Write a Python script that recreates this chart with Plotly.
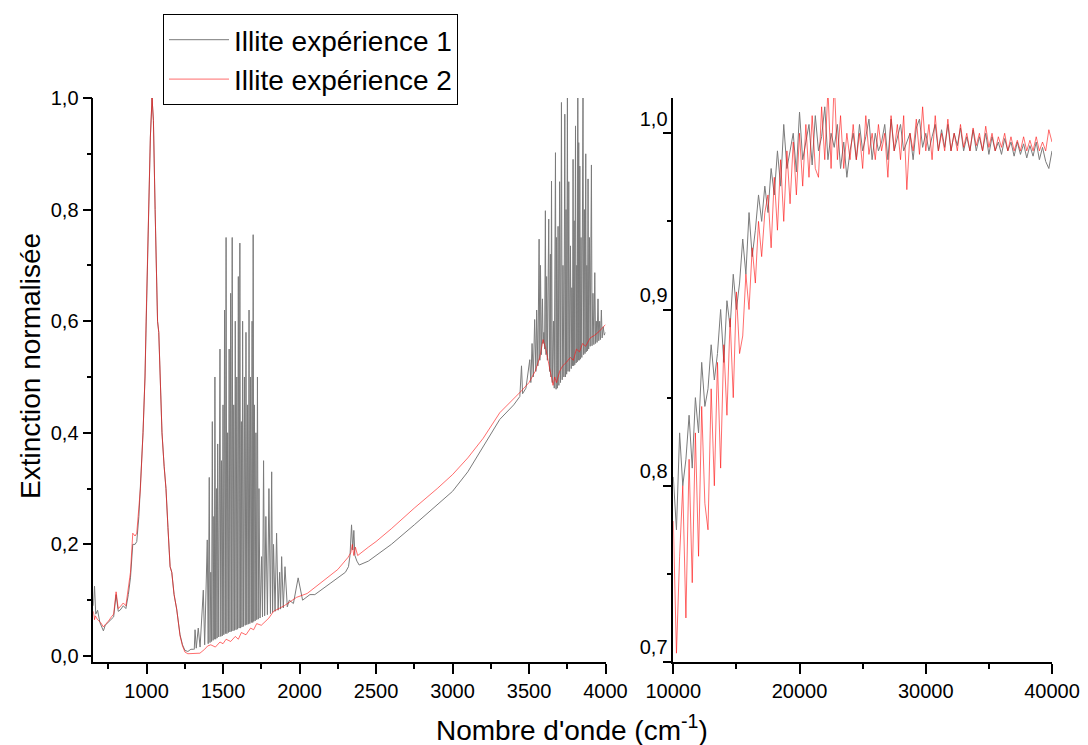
import plotly.graph_objects as go

# ---------------- data ----------------
# Left panel, experiment 1 (grey): (wavenumber, extinction)
gray_left_a = [(652,0.09),(660,0.125),(668,0.075),(680,0.082),(695,0.06),(710,0.05),(718,0.045),(730,0.055),
    (750,0.06),(770,0.066),(785,0.07),(801,0.11),(815,0.08),(827,0.082),(848,0.09),(865,0.085),(881,0.11),
    (895,0.14),(910,0.2),(925,0.2),(936,0.205),(950,0.25),(960,0.3),(977,0.4),(990,0.5),(997,0.6),(1005,0.7),
    (1013,0.8),(1025,0.93),(1036,1.0),(1045,0.96),(1056,0.8),(1065,0.65),(1072,0.6),(1080,0.58),(1088,0.5),
    (1101,0.4),(1115,0.34),(1127,0.3),(1140,0.23),(1154,0.16),(1165,0.15),(1180,0.11),(1197,0.084),(1210,0.052),
    (1219,0.038),(1235,0.02),(1251,0.01),(1270,0.008),(1290,0.012),(1306,0.012)]
gray_left_b = [(1312,0.012),(1317,0.047),(1325,0.014),(1338,0.05),(1350,0.016),(1371,0.118),(1380,0.02),
    (1397,0.208),(1403,0.022),(1410,0.32),(1415,0.024),(1420,0.15),(1425,0.026),(1430,0.42),(1435,0.028),
    (1440,0.25),(1443,0.03),(1447,0.5),(1452,0.03),(1458,0.3),(1461,0.032),(1465,0.38),(1472,0.034),(1480,0.55),
    (1485,0.035),(1490,0.35),(1495,0.036),(1500,0.45),(1505,0.038),(1510,0.62),(1515,0.04),(1520,0.75),(1525,0.04),
    (1530,0.4),(1535,0.042),(1540,0.55),(1545,0.043),(1550,0.65),(1555,0.044),(1560,0.75),(1565,0.045),(1570,0.45),
    (1575,0.046),(1580,0.6),(1585,0.047),(1590,0.5),(1595,0.048),(1600,0.68),(1605,0.05),(1610,0.74),(1615,0.05),
    (1620,0.42),(1624,0.052),(1628,0.6),(1634,0.053),(1640,0.5),(1645,0.055),(1650,0.58),(1655,0.056),(1660,0.45),
    (1665,0.057),(1670,0.62),(1675,0.058),(1680,0.5),(1685,0.06),(1690,0.6),(1694,0.06),(1697,0.755),(1701,0.062),
    (1705,0.45),(1710,0.063),(1715,0.4),(1720,0.065),(1725,0.5),(1730,0.066),(1735,0.3),(1742,0.068),(1752,0.178),
    (1758,0.07),(1765,0.35),(1772,0.072),(1780,0.25),(1790,0.074),(1800,0.3),(1810,0.076),(1818,0.33),(1824,0.078),
    (1830,0.2),(1840,0.08),(1850,0.22),(1860,0.082),(1870,0.15),(1876,0.084),(1883,0.178),(1894,0.086),(1905,0.16),
    (1920,0.088),(1933,0.1),(1960,0.094),(1991,0.14),(2020,0.1),(2068,0.11)]
gray_left_c = [(2100,0.11),(2200,0.13),(2300,0.15),(2320,0.16),(2330,0.18),(2340,0.235),(2348,0.19),(2355,0.225),
    (2362,0.18),(2375,0.17),(2390,0.163),(2450,0.17),(2500,0.18),(2600,0.2),(2750,0.235),(2900,0.27),(3000,0.295),
    (3100,0.33),(3200,0.375),(3309,0.424),(3400,0.45),(3440,0.465)]
gray_left_d = [(3451,0.52),(3458,0.47),(3480,0.48),(3505,0.531),(3512,0.49),(3520,0.56),(3528,0.5),(3537,0.603),
    (3545,0.51),(3550,0.62),(3558,0.52),(3566,0.747),(3571,0.53),(3575,0.7),(3581,0.54),(3588,0.64),(3592,0.56),
    (3597,0.58),(3602,0.55),(3607,0.798),(3611,0.54),(3615,0.68),(3620,0.53),(3629,0.783),(3634,0.51),(3640,0.72),
    (3643,0.5),(3647,0.851),(3652,0.49),(3660,0.6),(3665,0.48),(3673,0.902),(3677,0.478),(3680,0.75),(3685,0.48),
    (3690,0.77),(3695,0.485),(3700,0.85),(3706,0.49),(3712,0.992),(3717,0.495),(3722,0.7),(3728,0.5),(3734,0.971),
    (3738,0.5),(3742,0.8),(3746,0.505),(3751,1.0),(3755,0.51),(3760,0.85),(3765,0.51),(3771,0.735),(3776,0.515),
    (3780,0.66),(3784,0.52),(3788,0.89),(3792,0.52),(3795,0.78),(3799,0.522),(3804,0.95),(3808,0.525),(3812,0.7),
    (3815,0.527),(3819,1.0),(3822,0.53),(3825,0.92),(3828,0.53),(3832,0.878),(3836,0.532),(3840,0.75),(3845,0.535),
    (3853,1.0),(3857,0.54),(3862,0.8),(3866,0.542),(3871,0.9),(3874,0.545),(3878,0.7),(3882,0.547),(3886,0.855),
    (3890,0.55),(3895,0.75),(3900,0.555),(3908,0.88),(3912,0.556),(3918,0.65),(3924,0.558),(3930,0.687),(3935,0.56),
    (3940,0.6),(3945,0.562),(3951,0.64),(3956,0.565),(3962,0.6),(3967,0.567),(3973,0.62),(3978,0.57),(3985,0.59),
    (3992,0.575),(4000,0.58)]

# Left panel, experiment 2 (red)
red_left = [(652,0.08),(660,0.065),(665,0.072),(680,0.065),(700,0.06),(718,0.052),(735,0.058),(750,0.062),
    (770,0.07),(785,0.075),(801,0.115),(815,0.085),(827,0.088),(848,0.095),(865,0.09),(881,0.118),(895,0.15),
    (910,0.22),(925,0.215),(936,0.22),(950,0.26),(960,0.3),(977,0.4),(990,0.5),(997,0.6),(1005,0.7),(1013,0.8),
    (1025,0.93),(1036,1.0),(1045,0.96),(1056,0.8),(1065,0.65),(1072,0.6),(1080,0.58),(1088,0.5),(1101,0.4),
    (1115,0.34),(1127,0.3),(1140,0.23),(1154,0.16),(1165,0.15),(1180,0.11),(1197,0.084),(1210,0.05),(1219,0.036),
    (1235,0.018),(1251,0.007),(1270,0.004),(1306,0.004),(1349,0.005),(1380,0.012),(1400,0.018),(1420,0.02),
    (1450,0.016),(1480,0.025),(1500,0.022),(1520,0.03),(1550,0.026),(1580,0.035),(1600,0.03),(1620,0.042),
    (1650,0.038),(1680,0.05),(1700,0.047),(1720,0.058),(1750,0.055),(1800,0.068),(1830,0.08),(1900,0.09),
    (1980,0.105),(2050,0.112),(2155,0.135),(2250,0.155),(2318,0.177),(2335,0.185),(2345,0.2),(2355,0.18),
    (2365,0.195),(2380,0.18),(2450,0.195),(2500,0.205),(2600,0.228),(2750,0.265),(2900,0.3),(3000,0.325),
    (3100,0.355),(3200,0.39),(3309,0.436),(3400,0.46),(3450,0.475),(3500,0.49),(3540,0.51),(3570,0.535),
    (3592,0.567),(3610,0.55),(3630,0.52),(3650,0.495),(3657,0.485),(3668,0.5),(3680,0.49),(3700,0.51),
    (3720,0.52),(3744,0.526),(3770,0.535),(3790,0.53),(3810,0.55),(3830,0.545),(3850,0.56),(3870,0.555),
    (3900,0.57),(3930,0.575),(3960,0.582),(4000,0.594)]

# Right panel: samples every 250 cm-1 from 10000 to 40000
right_start = 10000
right_step = 250
gray_right = [
    0.805, 0.775, 0.83, 0.80, 0.815, 0.84, 0.81, 0.85,
    0.83, 0.87, 0.845, 0.855, 0.88, 0.86, 0.875, 0.90,
    0.87, 0.905, 0.89, 0.92, 0.90, 0.915, 0.94, 0.92,
    0.955, 0.93, 0.945, 0.965, 0.95, 0.97, 0.955, 0.98,
    0.965, 0.99, 0.97, 1.005, 0.98, 0.99, 1.0, 0.978,
    1.012, 0.985, 0.995, 1.005, 0.982, 1.01, 0.99, 0.998,
    1.015, 0.985, 1.0, 0.992, 1.005, 0.98, 0.995, 0.975,
    0.99, 1.0, 0.985, 1.005, 0.99, 0.998, 1.008, 0.985,
    1.0, 0.99, 0.995, 1.005, 0.985, 1.008, 0.99, 0.998,
    1.005, 0.99, 0.995, 1.0, 0.985, 1.003, 1.008, 0.992,
    1.0, 0.99, 0.998, 1.005, 0.99, 1.002, 0.992, 1.005,
    0.99, 1.0, 0.993, 1.003, 0.99, 0.998, 0.99, 1.002,
    0.99, 0.998, 0.99, 1.0, 0.988, 0.998, 0.99, 0.995,
    0.988, 0.997, 0.99, 0.995, 0.987, 0.995, 0.988, 0.994,
    0.986, 0.993, 0.987, 0.995, 0.985, 0.992, 0.984, 0.98,
    0.99]
red_right = [
    0.78, 0.705, 0.76, 0.80, 0.725, 0.815, 0.745, 0.83,
    0.76, 0.845, 0.79, 0.775, 0.855, 0.80, 0.87, 0.81,
    0.88, 0.84, 0.895, 0.85, 0.91, 0.875, 0.885, 0.92,
    0.90, 0.935, 0.915, 0.95, 0.93, 0.955, 0.965, 0.935,
    0.975, 0.945, 0.985, 0.95, 0.99, 0.96, 0.995, 0.965,
    1.0, 0.97, 1.005, 0.975, 1.01, 0.98, 0.975, 1.015,
    0.985, 1.025, 0.98, 1.03, 0.985, 1.01, 0.98, 1.0,
    0.985, 1.005, 0.985, 1.0, 0.98, 1.01, 0.988, 1.0,
    0.985, 1.005, 0.99, 1.0, 0.975, 1.01, 0.99, 1.005,
    0.985, 1.01, 0.968, 1.0, 0.99, 1.008, 0.988, 1.015,
    0.99, 1.005, 0.985, 1.01, 0.99, 1.0, 0.99, 1.008,
    0.99, 1.0, 0.99, 1.005, 0.992, 1.0, 0.99, 1.003,
    0.993, 1.0, 0.99, 1.004, 0.992, 1.0, 0.99, 0.998,
    0.992, 1.0, 0.99, 0.998, 0.99, 0.996, 0.99, 0.998,
    0.99, 0.996, 0.99, 0.998, 0.99, 0.995, 0.99, 1.002,
    0.995]

left_xticks = [1000, 1500, 2000, 2500, 3000, 3500, 4000]
left_xlabels = ["1000", "1500", "2000", "2500", "3000", "3500", "4000"]
left_yticks = [0.0, 0.2, 0.4, 0.6, 0.8, 1.0]
left_ylabels = ["0,0", "0,2", "0,4", "0,6", "0,8", "1,0"]
right_xticks = [10000, 20000, 30000, 40000]
right_xlabels = ["10000", "20000", "30000", "40000"]
right_yticks = [0.7, 0.8, 0.9, 1.0]
right_ylabels = ["0,7", "0,8", "0,9", "1,0"]

names = ["Illite expérience 1", "Illite expérience 2"]
x_title = "Nombre d'onde (cm<sup>-1</sup>)"
y_title = "Extinction normalisée"

# ---------------- figure ----------------
gray_left = gray_left_a + gray_left_b + gray_left_c + gray_left_d
GRAY = "#7b7b7b"
RED = "rgba(255,20,20,0.62)"
FONT = "Liberation Sans, Arial, sans-serif"

fig = go.Figure()
fig.add_trace(go.Scatter(x=[p[0] for p in gray_left], y=[p[1] for p in gray_left], mode="lines",
                         line=dict(color=GRAY, width=1), name=names[0], xaxis="x", yaxis="y"))
fig.add_trace(go.Scatter(x=[p[0] for p in red_left], y=[p[1] for p in red_left], mode="lines",
                         line=dict(color=RED, width=1), name=names[1], xaxis="x", yaxis="y"))
rx_g = [right_start + right_step * i for i in range(len(gray_right))]
rx_r = [right_start + right_step * i for i in range(len(red_right))]
fig.add_trace(go.Scatter(x=rx_g, y=gray_right, mode="lines", line=dict(color=GRAY, width=1),
                         showlegend=False, xaxis="x2", yaxis="y2"))
fig.add_trace(go.Scatter(x=rx_r, y=red_right, mode="lines", line=dict(color=RED, width=1),
                         showlegend=False, xaxis="x2", yaxis="y2"))

W, H = 1088, 745
def px_x(v): return v / W
def px_y(v): return 1 - v / H

axis_common = dict(showline=True, linecolor="black", linewidth=1.5, ticks="outside", tickcolor="black",
                   tickwidth=1.5, showgrid=False, zeroline=False, mirror=False,
                   tickfont=dict(family=FONT, size=20, color="black"))

fig.update_layout(
    width=W, height=H, paper_bgcolor="white", plot_bgcolor="white",
    margin=dict(l=0, r=0, t=0, b=0),
    xaxis=dict(domain=[px_x(93.3), px_x(605.5)], range=[652, 4000], anchor="y",
               tickmode="array", tickvals=left_xticks, ticktext=left_xlabels, ticklen=10,
               minor=dict(tickmode="array", tickvals=[750, 1250, 1750, 2250, 2750, 3250, 3750],
                          ticks="outside", ticklen=5, tickcolor="black", tickwidth=1.5),
               **axis_common),
    yaxis=dict(domain=[px_y(662), px_y(98)], range=[-0.0108, 1.0], anchor="x",
               tickmode="array", tickvals=left_yticks, ticktext=left_ylabels, ticklen=9,
               minor=dict(tickmode="array", tickvals=[0.1, 0.3, 0.5, 0.7, 0.9],
                          ticks="outside", ticklen=5, tickcolor="black", tickwidth=1.5),
               **axis_common),
    xaxis2=dict(domain=[px_x(673.3), px_x(1052)], range=[10000, 40000], anchor="y2",
                tickmode="array", tickvals=right_xticks, ticktext=right_xlabels, ticklen=10,
                minor=dict(tickmode="array", tickvals=[15000, 25000, 35000],
                           ticks="outside", ticklen=5, tickcolor="black", tickwidth=1.5),
                **axis_common),
    yaxis2=dict(domain=[px_y(662), px_y(98)], range=[0.7, 1.02], anchor="x2",
                tickmode="array", tickvals=right_yticks, ticktext=right_ylabels, ticklen=9,
                ticklabelposition="outside top",
                minor=dict(tickmode="array", tickvals=[0.75, 0.85, 0.95],
                           ticks="outside", ticklen=5, tickcolor="black", tickwidth=1.5),
                **axis_common),
    legend=dict(x=px_x(163), y=px_y(14), xanchor="left", yanchor="top",
                bordercolor="black", borderwidth=1, bgcolor="white",
                font=dict(family=FONT, size=28, color="black"), tracegroupgap=0, itemwidth=60),
    annotations=[
        dict(text=x_title, x=px_x(572), y=px_y(728), xref="paper", yref="paper",
             showarrow=False, xanchor="center", yanchor="middle",
             font=dict(family=FONT, size=28, color="black")),
        dict(text=y_title, x=px_x(30), y=px_y(366), xref="paper", yref="paper",
             showarrow=False, xanchor="center", yanchor="middle", textangle=-90,
             font=dict(family=FONT, size=28, color="black")),
    ],
)
for ax in ("xaxis", "yaxis", "xaxis2", "yaxis2"):
    fig.layout[ax].automargin = False

fig.write_html("out.html", config={"displayModeBar": False},
               post_script="document.body.style.margin='0';document.body.style.overflow='hidden';")
